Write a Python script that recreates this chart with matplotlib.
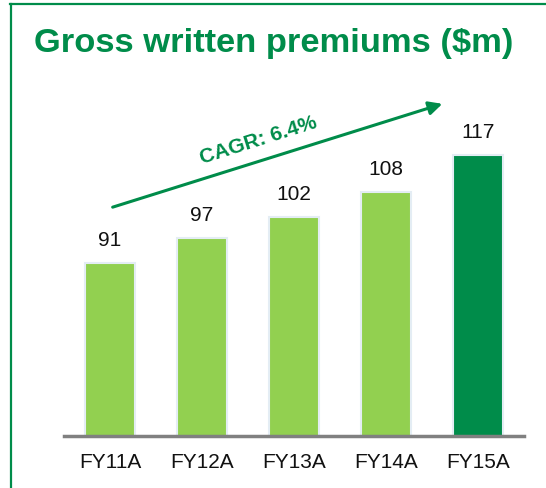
import matplotlib
matplotlib.use('Agg')
import matplotlib.pyplot as plt
from matplotlib.lines import Line2D

plt.rcParams['font.family'] = ['Liberation Sans', 'DejaVu Sans']

years = ['FY11A', 'FY12A', 'FY13A', 'FY14A', 'FY15A']
premiums = [91, 97, 102, 108, 117]
cagr_label = 'CAGR: 6.4%'
title = 'Gross written premiums ($m)'

green = '#008C4A'
light_green = '#92D050'
colors = [light_green] * 4 + [green]

W, H = 546, 488
fig = plt.figure(figsize=(W / 100, H / 100), dpi=100)
ax = fig.add_axes([64 / W, 52 / H, 460 / W, 332 / H])

xs = range(len(years))
ax.bar(xs, premiums, width=0.54, color=colors,
       edgecolor='#e4edf4', linewidth=1.5, zorder=2)
for x, v in zip(xs, premiums):
    ax.annotate(str(v), (x, v), xytext=(0, 9.5), textcoords='offset points',
                ha='center', va='bottom', fontsize=15, color='#111111')

ax.set_xlim(-0.5, 4.5)
ax.set_ylim(49.3, 129.3)
ax.set_xticks(list(xs))
ax.set_xticklabels(years, fontsize=15, color='#111111')
ax.tick_params(axis='x', length=0, pad=12)
ax.set_yticks([])
for s in ['top', 'right', 'left']:
    ax.spines[s].set_visible(False)
ax.spines['bottom'].set_color('#808080')
ax.spines['bottom'].set_linewidth(2.5)
ax.spines['bottom'].set_zorder(3)

# frame
fig.add_artist(Line2D([10.5 / W, 10.5 / W], [0, 1 - 3.5 / H],
                      transform=fig.transFigure, color=green, lw=1.6))
fig.add_artist(Line2D([10 / W, 1], [1 - 3.5 / H, 1 - 3.5 / H],
                      transform=fig.transFigure, color=green, lw=1.6))

fig.text(34 / W, 1 - 52 / H, title, fontsize=24.8, fontweight='bold',
         color=green, ha='left', va='baseline')

# CAGR arrow
fig.add_artist(matplotlib.patches.FancyArrowPatch(
    (110 / W, 1 - 208 / H), (445 / W, 1 - 103 / H),
    transform=fig.transFigure, arrowstyle='-|>', mutation_scale=20,
    color=green, lw=2.2))
fig.text(258 / W, 1 - 140 / H, cagr_label, fontsize=15, fontweight='bold',
         color=green, rotation=17.5, rotation_mode='anchor',
         ha='center', va='center')

fig.savefig('out.png', dpi=100)
